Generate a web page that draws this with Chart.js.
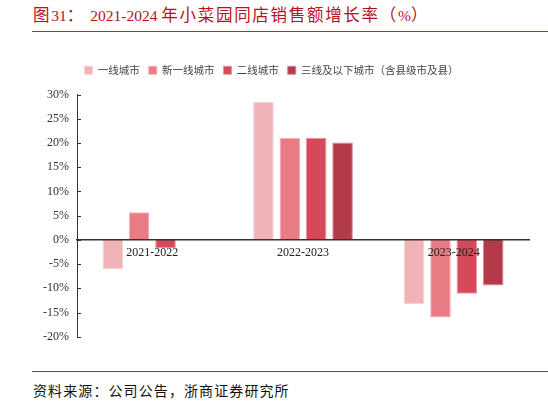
<!DOCTYPE html>
<html>
<head>
<meta charset="utf-8">
<script src="https://cdn.jsdelivr.net/npm/chart.js@4.4.1/dist/chart.umd.min.js"></script>
<style>
  html, body { margin:0; padding:0; background:#fff; width:548px; height:402px; overflow:hidden; }
  #title { position:absolute; left:33px; top:2px; color:#b8101c; white-space:nowrap; font-family:"Liberation Serif","Noto Sans CJK SC",serif; }
  #title .cjk { font-family:"Noto Sans CJK SC",sans-serif; font-size:16.5px; letter-spacing:1.7px; }
  #title .num { font-size:15.5px; }
  .rule { position:absolute; left:32px; right:0; height:1px; background:#c0282f; }
  #source { position:absolute; left:33px; top:380px; font-family:"Noto Sans CJK SC",sans-serif; font-size:14px; letter-spacing:1.1px; color:#111; white-space:nowrap; }
  #wrap { position:absolute; left:0; top:52px; width:548px; height:300px; }
</style>
</head>
<body>
<div id="title"><span class="cjk">图</span><span class="num">31</span><span class="cjk">：&nbsp;</span><span class="num">2021-2024 </span><span class="cjk">年小菜园同店销售额增长率（</span><span class="num">%</span><span class="cjk">）</span></div>
<div class="rule" style="top:31px"></div>
<div id="wrap"><canvas id="c"></canvas></div>
<div class="rule" style="top:371px"></div>
<div id="source">资料来源：公司公告，浙商证券研究所</div>
<script>
const categories = ["2021-2022", "2022-2023", "2023-2024"];
const seriesNames = ["一线城市", "新一线城市", "二线城市", "三线及以下城市（含县级市及县）"];
const tier1 = [-6.0, 28.5, -13.3];
const newTier1 = [5.7, 21.0, -16.0];
const tier2 = [-1.7, 21.0, -11.1];
const tier3Below = [null, 20.1, -9.4];
const yTicks = [30, 25, 20, 15, 10, 5, 0, -5, -10, -15, -20];

const colors = ["#f0b4b8", "#e97b84", "#d6495a", "#b33a48"];
const borders = ["#f6d0d3", "#f3b0b6", "#eb8f99", "#d9858f"];
const values = [tier1, newTier1, tier2, tier3Below];

const innerTicks = {
  id: 'innerTicks',
  afterDatasetsDraw(chart) {
    const y = chart.scales.y, ctx = chart.ctx;
    ctx.save();
    ctx.strokeStyle = '#333';
    ctx.lineWidth = 1;
    y.ticks.forEach((t, i) => {
      const py = Math.round(y.getPixelForTick(i)) + 0.5;
      ctx.beginPath();
      ctx.moveTo(y.right, py);
      ctx.lineTo(y.right + 4, py);
      ctx.stroke();
    });
    ctx.restore();
  }
};

const legendMargin = {
  id: 'legendMargin',
  beforeInit(chart) {
    const orig = chart.legend.fit;
    chart.legend.fit = function () { orig.bind(chart.legend)(); this.height += 9; };
  }
};

new Chart(document.getElementById('c'), {
  type: 'bar',
  data: {
    labels: categories,
    datasets: values.map((v, i) => ({
      label: seriesNames[i],
      data: v,
      backgroundColor: colors[i],
      borderColor: borders[i],
      borderWidth: 1,
      categoryPercentage: 0.70,
      barPercentage: 0.78
    }))
  },
  options: {
    responsive: true,
    maintainAspectRatio: false,
    animation: false,
    layout: { padding: { left: 14, right: 19, top: 4, bottom: 0 } },
    plugins: {
      tooltip: { enabled: false },
      legend: {
        position: 'top',
        labels: {
          boxWidth: 8, boxHeight: 8, padding: 9,
          color: '#444',
          font: { family: '"Noto Sans CJK SC", sans-serif', size: 10.5 }
        }
      }
    },
    scales: {
      x: {
        position: { y: 0 },
        grid: { display: false, drawTicks: false },
        border: { display: true, color: '#333', width: 1.5, z: 1 },
        ticks: { z: 1, color: '#222', padding: 6, font: { family: '"Liberation Serif", serif', size: 12 } }
      },
      y: {
        min: -20, max: 30,
        afterFit(s) { s.width = 63; },
        afterBuildTicks(s) { s.ticks = yTicks.map(v => ({ value: v })); },
        grid: { display: false, drawTicks: false },
        border: { display: true, color: '#333', width: 1 },
        ticks: {
          color: '#333', padding: 8,
          font: { family: '"Liberation Serif", serif', size: 12 },
          callback: v => v + '%'
        }
      }
    }
  },
  plugins: [innerTicks, legendMargin]
});
</script>
</body>
</html>
